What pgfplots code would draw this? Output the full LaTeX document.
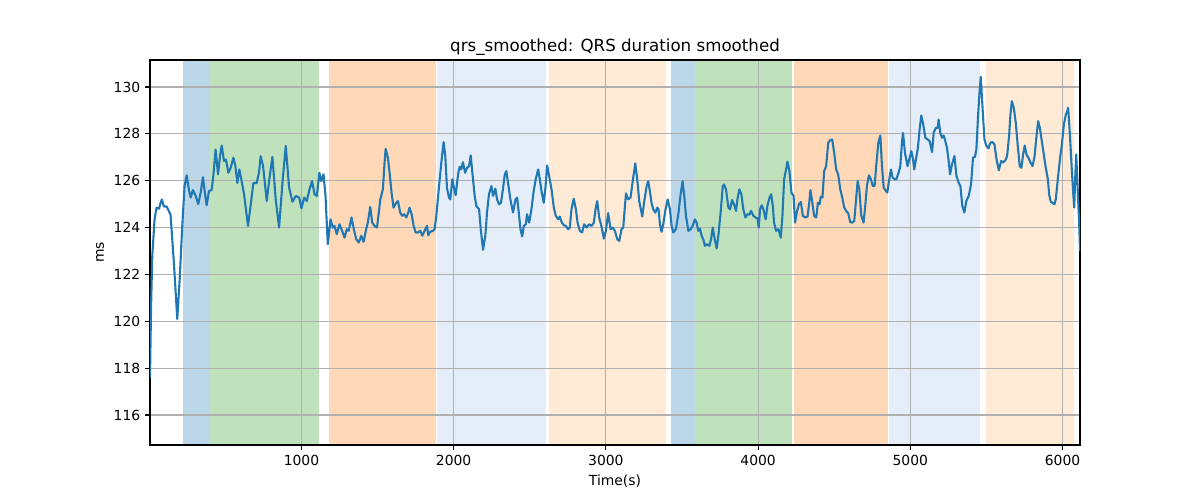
\documentclass[border=0pt]{standalone}
\usepackage{pgfplots}
\pgfplotsset{compat=1.18}
\usepackage{fontspec}
\setmainfont{DejaVu Sans}
\definecolor{tabblue}{RGB}{31,119,180}
\definecolor{gridc}{RGB}{176,176,176}
\definecolor{spanblue}{RGB}{188,214,233}
\definecolor{spangreen}{RGB}{191,226,189}
\definecolor{spanorange}{RGB}{255,217,183}
\definecolor{spanlblue}{RGB}{229,237,248}
\definecolor{spanlorange}{RGB}{255,234,214}
\begin{document}
\begin{tikzpicture}
\begin{axis}[
  set layers=standard,
  scale only axis,
  width=669.6pt, height=277.2pt,
  xmin=5, xmax=6115, ymin=114.72, ymax=131.15,
  xtick={1000,2000,3000,4000,5000,6000},
  ytick={116,118,120,122,124,126,128,130},
  tick pos=left,
  /pgf/number format/assume math mode=true,
  /pgf/number format/1000 sep={},
  scaled ticks=false,
  grid=major,
  grid style={color=gridc, line width=0.8pt},
  tick align=outside,
  major tick length=3.5pt,
  tick style={black, line width=0.8pt},
  axis line style={black, line width=0.8pt},
  ticklabel style={font=\fontsize{10}{12}\selectfont},
  title={qrs\_smoothed: QRS duration smoothed},
  title style={font=\fontsize{12}{14}\selectfont, at={(0.5,1)}, anchor=south, inner sep=0pt, yshift=-3pt},
  xlabel={Time(s)},
  ylabel={ms},
  label style={font=\fontsize{10}{12}\selectfont},
]
% spans
\addplot[draw=none, fill=spanblue, on layer=axis background] coordinates {(219,114.72) (395,114.72) (395,131.15) (219,131.15)};
\addplot[draw=none, fill=spangreen, on layer=axis background] coordinates {(395,114.72) (1116,114.72) (1116,131.15) (395,131.15)};
\addplot[draw=none, fill=spanorange, on layer=axis background] coordinates {(1184,114.72) (1882,114.72) (1882,131.15) (1184,131.15)};
\addplot[draw=none, fill=spanlblue, on layer=axis background] coordinates {(1893,114.72) (2605,114.72) (2605,131.15) (1893,131.15)};
\addplot[draw=none, fill=spanlorange, on layer=axis background] coordinates {(2625,114.72) (3395,114.72) (3395,131.15) (2625,131.15)};
\addplot[draw=none, fill=spanblue, on layer=axis background] coordinates {(3428,114.72) (3586,114.72) (3586,131.15) (3428,131.15)};
\addplot[draw=none, fill=spangreen, on layer=axis background] coordinates {(3586,114.72) (4226,114.72) (4226,131.15) (3586,131.15)};
\addplot[draw=none, fill=spanorange, on layer=axis background] coordinates {(4237,114.72) (4853,114.72) (4853,131.15) (4237,131.15)};
\addplot[draw=none, fill=spanlblue, on layer=axis background] coordinates {(4862,114.72) (5458,114.72) (5458,131.15) (4862,131.15)};
\addplot[draw=none, fill=spanlorange, on layer=axis background] coordinates {(5500,114.72) (6077,114.72) (6077,131.15) (5500,131.15)};
% series
\addplot[tabblue, line width=1.5pt, line join=round, mark=none] table {
5 117.6
12 120.6
20 122.8
35 124.35
48 124.85
64 124.8
72 125.0
83 125.2
96 124.9
114 124.9
129 124.7
140 124.55
162 122.5
184 120.1
200 121.8
217 124.07
232 125.77
246 126.23
261 125.6
272 125.28
287 125.6
305 125.35
322 125.0
338 125.5
353 126.15
364 125.56
377 124.95
393 125.56
410 125.6
421 126.2
436 127.33
452 126.27
465 127.05
476 127.5
491 126.84
504 126.9
520 126.34
535 126.55
553 126.98
566 126.62
579 125.9
592 126.48
605 126.06
623 125.42
649 124.07
667 125.0
684 125.9
706 125.9
721 126.34
732 127.05
748 126.62
772 125.13
789 126.06
809 127.02
831 125.2
853 124.0
875 125.9
897 127.48
919 125.7
941 125.1
963 125.35
985 125.28
1000 124.82
1018 125.28
1035 125.13
1053 125.63
1070 125.98
1086 125.42
1101 125.35
1118 126.34
1129 125.98
1145 126.27
1158 125.35
1173 123.29
1191 124.35
1206 124.0
1217 124.07
1232 123.72
1250 124.14
1267 123.86
1283 123.57
1298 123.93
1311 123.86
1329 124.43
1344 123.93
1360 123.5
1377 123.36
1393 123.65
1408 123.39
1425 123.93
1436 124.21
1452 124.88
1465 124.21
1480 124.07
1496 124.0
1507 124.57
1518 125.2
1535 125.63
1546 126.77
1553 127.36
1568 126.98
1579 126.34
1592 125.49
1605 124.85
1623 125.06
1634 125.13
1649 124.64
1662 124.5
1675 124.57
1689 124.43
1702 124.64
1710 124.85
1724 124.57
1737 124.07
1750 123.79
1765 123.79
1781 123.86
1794 123.65
1809 123.86
1825 124.07
1833 123.67
1846 123.82
1864 123.86
1875 123.93
1886 124.5
1903 125.7
1919 126.77
1934 127.65
1945 127.05
1956 125.7
1969 125.28
1978 125.2
1991 126.06
2002 125.7
2013 125.38
2029 126.27
2039 126.6
2050 126.48
2061 126.79
2075 126.34
2088 126.55
2101 126.62
2112 127.08
2123 126.34
2138 125.35
2149 124.92
2167 124.78
2178 123.93
2193 123.05
2208 123.65
2219 124.64
2232 125.42
2248 125.77
2259 125.35
2274 125.66
2285 125.2
2298 124.99
2311 125.06
2325 125.7
2336 126.27
2346 126.41
2357 125.91
2373 125.2
2390 124.64
2406 125.2
2417 125.28
2430 124.5
2439 123.93
2450 123.62
2461 124.07
2474 124.14
2482 124.57
2496 124.21
2511 124.78
2526 125.56
2539 126.06
2555 126.48
2566 126.06
2577 125.56
2592 125.06
2603 125.7
2614 126.65
2627 126.2
2643 125.63
2658 124.85
2671 124.5
2687 124.35
2697 124.47
2711 124.21
2724 124.1
2737 124.07
2752 123.93
2763 124.0
2774 124.78
2789 125.23
2803 124.78
2814 124.21
2829 123.86
2844 123.79
2857 124.14
2873 124.0
2890 124.14
2906 124.07
2921 124.21
2932 124.78
2943 125.13
2956 124.43
2971 124.05
2987 123.53
3000 123.86
3015 124.62
3031 123.93
3044 124.0
3059 123.86
3075 123.5
3088 123.43
3103 123.93
3114 124.0
3132 125.46
3147 125.2
3162 125.28
3175 125.91
3193 126.74
3206 126.06
3219 125.13
3239 124.47
3254 125.2
3268 125.77
3278 125.98
3289 125.56
3300 125.06
3311 124.78
3325 124.64
3338 124.85
3346 124.78
3355 124.14
3366 123.82
3377 124.14
3392 124.78
3406 125.2
3421 124.78
3432 124.07
3443 123.79
3460 123.93
3476 124.57
3491 125.42
3504 125.98
3515 125.35
3526 124.5
3542 123.86
3557 123.93
3570 124.07
3585 124.35
3596 124.21
3607 123.86
3618 123.96
3629 123.65
3640 123.5
3651 123.22
3662 123.29
3680 123.22
3691 123.5
3702 124.0
3715 123.5
3728 123.11
3739 123.65
3754 124.64
3768 125.77
3776 125.84
3789 125.63
3805 124.85
3816 124.78
3829 125.18
3842 124.99
3855 124.71
3866 125.28
3877 125.63
3890 125.42
3903 124.78
3917 124.43
3930 124.57
3943 124.55
3954 124.71
3969 124.5
3982 124.43
3996 124.4
4004 124.0
4013 124.78
4024 124.95
4035 124.78
4050 124.35
4061 124.92
4075 125.28
4086 125.42
4097 124.92
4105 124.21
4118 123.86
4134 123.93
4149 123.57
4160 124.5
4171 126.06
4184 126.48
4193 126.81
4206 126.41
4219 125.49
4233 125.35
4243 124.21
4254 124.64
4268 124.99
4281 125.09
4294 124.5
4309 124.43
4325 124.47
4336 125.06
4344 125.6
4355 125.13
4368 124.5
4382 124.43
4393 125.06
4404 124.99
4412 125.32
4423 125.28
4434 126.41
4447 126.62
4461 127.62
4474 127.73
4487 127.76
4500 127.19
4513 126.48
4526 126.27
4540 125.63
4553 125.28
4566 124.85
4579 124.71
4592 124.61
4605 124.24
4618 124.21
4632 124.28
4640 124.92
4654 125.99
4665 125.63
4678 124.5
4693 124.21
4704 124.92
4715 125.77
4728 126.23
4741 126.06
4754 125.77
4765 125.77
4776 126.62
4790 127.62
4803 127.93
4814 126.62
4825 125.7
4840 125.56
4849 125.49
4860 125.99
4873 126.48
4884 126.13
4897 126.06
4908 126.06
4923 126.34
4934 126.6
4945 127.62
4952 128.04
4965 127.19
4982 126.62
4996 126.98
5007 127.26
5018 126.91
5026 126.48
5040 127.02
5050 127.4
5061 128.18
5072 128.78
5083 128.47
5099 127.83
5114 127.76
5127 127.69
5143 127.22
5154 128.07
5169 128.26
5180 128.26
5186 128.61
5197 128.04
5208 127.83
5219 127.93
5230 127.69
5241 127.4
5252 126.84
5261 126.27
5274 126.7
5290 127.05
5303 126.2
5318 125.91
5329 125.77
5342 124.92
5355 124.64
5368 125.13
5384 125.35
5399 125.84
5412 126.98
5425 127.02
5434 127.33
5445 128.75
5456 129.89
5463 130.43
5474 129.18
5487 127.76
5500 127.48
5513 127.38
5526 127.62
5540 127.65
5553 127.55
5566 126.94
5581 126.44
5597 126.84
5610 126.77
5625 126.88
5636 127.05
5649 127.9
5658 128.82
5667 129.39
5680 129.11
5693 128.47
5706 127.48
5719 126.62
5730 126.55
5741 127.12
5752 127.5
5763 127.12
5776 126.98
5790 126.77
5803 126.62
5816 127.02
5829 127.9
5840 128.54
5851 128.26
5864 127.69
5877 127.12
5890 126.55
5904 126.06
5912 125.42
5923 125.09
5934 125.06
5947 124.99
5956 125.21
5969 126.06
5983 126.91
5996 127.55
6009 128.4
6022 128.82
6031 128.96
6037 129.11
6048 128.04
6061 126.48
6070 125.49
6077 124.85
6083 126.06
6090 127.12
6099 125.77
6110 124.07
6115 123.0
};
\end{axis}
\path (-108pt,-39.6pt) rectangle (756pt,320.4pt);
\end{tikzpicture}
\end{document}
